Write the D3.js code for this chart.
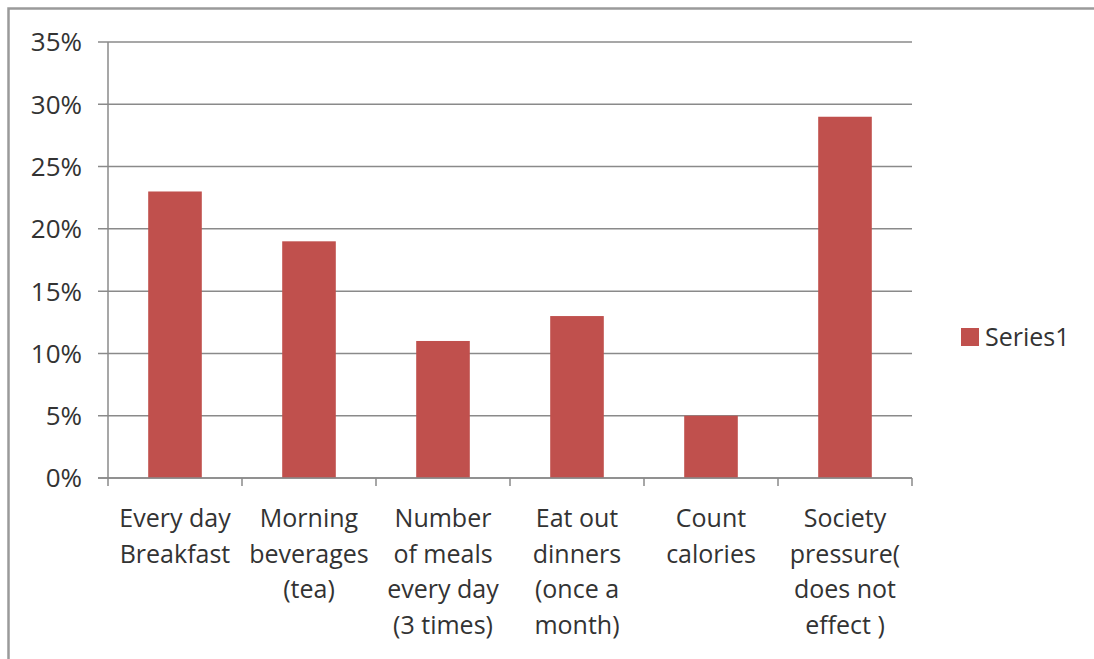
<!DOCTYPE html>
<html>
<head>
<meta charset="utf-8">
<script src="https://cdn.jsdelivr.net/npm/d3@7"></script>
<style>
  html, body { margin: 0; padding: 0; background: #fff; }
  svg { display: block; }
  text { font-family: "Open Sans", Lato, sans-serif; fill: #333333; }
</style>
</head>
<body>
<svg id="chart" width="1094" height="659"></svg>
<script>
// Survey categories (each label split into its display lines)
const categories = [
  ["Every day", "Breakfast"],
  ["Morning", "beverages", "(tea)"],
  ["Number", "of meals", "every day", "(3 times)"],
  ["Eat out", "dinners", "(once a", "month)"],
  ["Count", "calories"],
  ["Society", "pressure(", "does not", "effect )"]
];
const series1 = [0.23, 0.19, 0.11, 0.13, 0.05, 0.29];
const yTicks = [0, 0.05, 0.10, 0.15, 0.20, 0.25, 0.30, 0.35];
const seriesName = "Series1";

const svg = d3.select("#chart");
const W = 1094, H = 659;
const plot = { left: 108, right: 912, top: 42, bottom: 478 };
const barColor = "#C0504D";
const gridColor = "#8a8a8a";

// Outer chart frame (top and left edges)
svg.append("path")
  .attr("d", `M8.5,${H} L8.5,8.5 L${W},8.5`)
  .attr("fill", "none")
  .attr("stroke", "#9a9a9a")
  .attr("stroke-width", 2.5);

const keys = categories.map((c, i) => i);
const x = d3.scaleBand().domain(keys).range([plot.left, plot.right]).padding(0);
const y = d3.scaleLinear().domain([0, 0.35]).range([plot.bottom, plot.top]);
const barW = x.bandwidth() * 0.4;

// Horizontal gridlines with the left-hand tick stubs
svg.append("g")
  .selectAll("line")
  .data(yTicks)
  .join("line")
  .attr("x1", plot.left - 10)
  .attr("x2", plot.right)
  .attr("y1", d => y(d))
  .attr("y2", d => y(d))
  .attr("stroke", gridColor)
  .attr("stroke-width", 1.5);

// Bars
svg.append("g")
  .selectAll("rect")
  .data(series1)
  .join("rect")
  .attr("x", (d, i) => x(i) + (x.bandwidth() - barW) / 2)
  .attr("y", d => y(d))
  .attr("width", barW)
  .attr("height", d => y(0) - y(d))
  .attr("fill", barColor);

// Vertical axis line
svg.append("line")
  .attr("x1", plot.left).attr("x2", plot.left)
  .attr("y1", plot.top).attr("y2", plot.bottom)
  .attr("stroke", gridColor).attr("stroke-width", 1.5);

// Category axis line and boundary ticks
svg.append("line")
  .attr("x1", plot.left - 10).attr("x2", plot.right)
  .attr("y1", plot.bottom).attr("y2", plot.bottom)
  .attr("stroke", gridColor).attr("stroke-width", 1.5);

const boundaries = keys.map(k => x(k)).concat([x(keys[keys.length - 1]) + x.bandwidth()]);
svg.append("g")
  .selectAll("line")
  .data(boundaries)
  .join("line")
  .attr("x1", d => d).attr("x2", d => d)
  .attr("y1", plot.bottom).attr("y2", plot.bottom + 8)
  .attr("stroke", gridColor).attr("stroke-width", 1.5);

// Y tick labels
const pct = d3.format(".0%");
svg.append("g")
  .selectAll("text")
  .data(yTicks)
  .join("text")
  .attr("x", 82)
  .attr("y", d => y(d))
  .attr("dy", "0.36em")
  .attr("text-anchor", "end")
  .attr("font-size", 26)
  .text(d => pct(d));

// Category labels
const lineH = 35.5;
const catG = svg.append("g")
  .selectAll("text")
  .data(categories)
  .join("text")
  .attr("text-anchor", "middle")
  .attr("font-size", 25)
  .attr("x", (d, i) => x(i) + x.bandwidth() / 2)
  .attr("y", 527);
catG.selectAll("tspan")
  .data((d, i) => d.map(s => ({ s, i })))
  .join("tspan")
  .attr("x", d => x(d.i) + x.bandwidth() / 2)
  .attr("dy", (d, j) => j === 0 ? 0 : lineH)
  .text(d => d.s);

// Legend
const legend = svg.append("g").attr("transform", "translate(961,328)");
legend.append("rect")
  .attr("width", 18).attr("height", 18)
  .attr("fill", barColor);
legend.append("text")
  .attr("x", 24).attr("y", 9)
  .attr("dy", "0.36em")
  .attr("font-size", 25)
  .text(seriesName);
</script>
</body>
</html>
